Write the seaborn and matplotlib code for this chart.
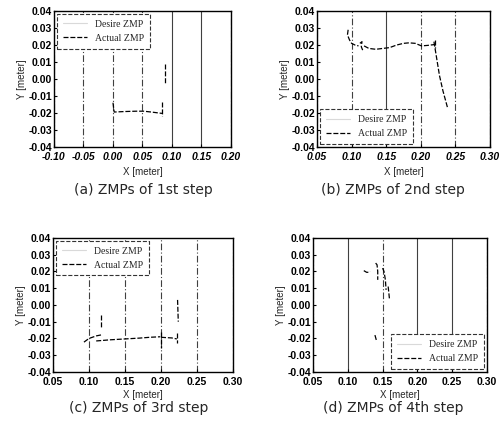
import numpy as np
import pandas as pd
import matplotlib
matplotlib.use("Agg")
import matplotlib.pyplot as plt
import seaborn as sns
from matplotlib.lines import Line2D
from matplotlib.ticker import FormatStrFormatter

# Actual ZMP traces, one list per panel; "seg" keeps separate strokes apart
a_x = [0.000, 0.001, 0.002, 0.020, 0.040, 0.052, 0.065, 0.083,
       0.083, 0.083,
       0.088, 0.088]
a_y = [-0.014, -0.017, -0.0195, -0.0192, -0.019, -0.019, -0.0195, -0.0203,
       -0.0135, -0.022,
       0.009, -0.003]
a_seg = [0, 0, 0, 0, 0, 0, 0, 0, 1, 1, 2, 2]

b_x = [0.095, 0.094, 0.097, 0.100, 0.105, 0.110,
       0.112, 0.115, 0.114, 0.116,
       0.118, 0.125, 0.135, 0.145, 0.155, 0.165, 0.175, 0.183, 0.192, 0.201, 0.210, 0.220,
       0.219, 0.223, 0.227, 0.232, 0.239,
       0.220, 0.220]
b_y = [0.029, 0.026, 0.023, 0.021, 0.020, 0.0195,
       0.021, 0.022, 0.019, 0.017,
       0.0195, 0.018, 0.0175, 0.018, 0.0185, 0.020, 0.021, 0.0213, 0.021, 0.0195, 0.0198, 0.0203,
       0.022, 0.012, 0.002, -0.007, -0.0175,
       0.023, 0.018]
b_seg = [0] * 6 + [1] * 4 + [2] * 12 + [3] * 5 + [4] * 2

c_x = [0.093, 0.100, 0.110, 0.119,
       0.110, 0.130, 0.150, 0.170, 0.185, 0.199,
       0.200, 0.207, 0.215, 0.222,
       0.222, 0.222,
       0.117, 0.117,
       0.223, 0.224,
       0.200, 0.200]
c_y = [-0.0222, -0.020, -0.0185, -0.0177,
       -0.0215, -0.0208, -0.0203, -0.0198, -0.0193, -0.0190,
       -0.0193, -0.0195, -0.0197, -0.0203,
       -0.017, -0.0225,
       -0.006, -0.013,
       0.003, -0.010,
       -0.016, -0.026]
c_seg = [0] * 4 + [1] * 6 + [2] * 4 + [3] * 2 + [4] * 2 + [5] * 2 + [6] * 2

d_x = [0.123, 0.127, 0.130, 0.132,
       0.140, 0.142, 0.143, 0.143,
       0.150, 0.152, 0.154, 0.155,
       0.158, 0.159, 0.160,
       0.139, 0.140, 0.141]
d_y = [0.0205, 0.0195, 0.0195, 0.020,
       0.025, 0.024, 0.020, 0.015,
       0.022, 0.020, 0.015, 0.009,
       0.011, 0.007, 0.003,
       -0.018, -0.0195, -0.021]
d_seg = [0] * 4 + [1] * 4 + [2] * 4 + [3] * 3 + [4] * 3

captions = ["(a) ZMPs of 1st step", "(b) ZMPs of 2nd step",
            "(c) ZMPs of 3rd step", "(d) ZMPs of 4th step"]
x_limits = [(-0.10, 0.20), (0.05, 0.30), (0.05, 0.30), (0.05, 0.30)]
# which vertical grid lines look solid in the scan (others dash-dot)
solid_grid = [[0.10, 0.15], [0.15], [], [0.10, 0.20, 0.25]]
legend_locs = ["upper left", "lower left", "upper left", "lower right"]

sns.set_theme(style="ticks")
plt.rcParams["font.family"] = ["Liberation Sans", "DejaVu Sans"]

fig = plt.figure(figsize=(5.0, 4.28), dpi=100)
boxes = [[0.108, 0.657, 0.354, 0.317],
         [0.634, 0.657, 0.346, 0.317],
         [0.106, 0.131, 0.360, 0.313],
         [0.626, 0.131, 0.348, 0.313]]
caption_pos = [(0.286, 0.556), (0.786, 0.556), (0.277, 0.047), (0.786, 0.047)]
xlabel_pad = [3, 3, 1.5, 1.5]
tick_style = ["italic", "italic", "normal", "normal"]

panels = [(a_x, a_y, a_seg), (b_x, b_y, b_seg), (c_x, c_y, c_seg), (d_x, d_y, d_seg)]

for i, (xs, ys, seg) in enumerate(panels):
    ax = fig.add_axes(boxes[i])
    df = pd.DataFrame({"x": xs, "y": ys, "seg": seg})
    sns.lineplot(data=df, x="x", y="y", units="seg", estimator=None, sort=False,
                 color="black", lw=0.9, linestyle=(0, (4, 1.5)), ax=ax)

    lo, hi = x_limits[i]
    ticks = np.round(np.arange(lo, hi + 1e-9, 0.05), 2)
    ax.set_xlim(lo, hi)
    ax.set_ylim(-0.04, 0.04)
    ax.set_xticks(ticks)
    ax.set_yticks(np.round(np.arange(-0.04, 0.0401, 0.01), 2))
    ax.xaxis.set_major_formatter(FormatStrFormatter("%.2f"))
    ax.yaxis.set_major_formatter(FormatStrFormatter("%.2f"))

    ax.xaxis.grid(True, color="0.25", lw=0.8, linestyle=(0, (6, 2, 1, 2)))
    for t, gl in zip(ticks, ax.get_xgridlines()):
        if any(abs(t - s) < 1e-6 for s in solid_grid[i]):
            gl.set_linestyle("-")

    ax.tick_params(direction="in", length=2.5, width=0.8, labelsize=7.5,
                   pad=1.5, colors="black")
    ax.tick_params(axis="x", pad=4)
    for lab in ax.get_xticklabels():
        lab.set_fontweight("bold")
        lab.set_fontstyle(tick_style[i])
    for lab in ax.get_yticklabels():
        lab.set_fontweight("bold")
    for sp in ax.spines.values():
        sp.set_linewidth(1.0)
        sp.set_color("black")

    ax.set_xlabel("X [meter]", fontsize=7, labelpad=xlabel_pad[i])
    ax.set_ylabel("Y [meter]", fontsize=7, labelpad=1)

    handles = [Line2D([], [], color="0.85", lw=0.8),
               Line2D([], [], color="black", lw=0.9, linestyle=(0, (4, 1.5)))]
    leg = ax.legend(handles, ["Desire ZMP", "Actual ZMP"], loc=legend_locs[i],
                    prop={"family": "Liberation Serif", "size": 7},
                    frameon=True, fancybox=False, borderaxespad=0.3,
                    handlelength=2.5, borderpad=0.6, labelspacing=0.5)
    frame = leg.get_frame()
    frame.set_edgecolor("0.2")
    frame.set_linestyle("--")
    frame.set_linewidth(0.8)
    frame.set_alpha(1)

    fig.text(caption_pos[i][0], caption_pos[i][1], captions[i],
             ha="center", va="center", fontsize=10, family="DejaVu Sans")

fig.savefig("out.png", dpi=100)
